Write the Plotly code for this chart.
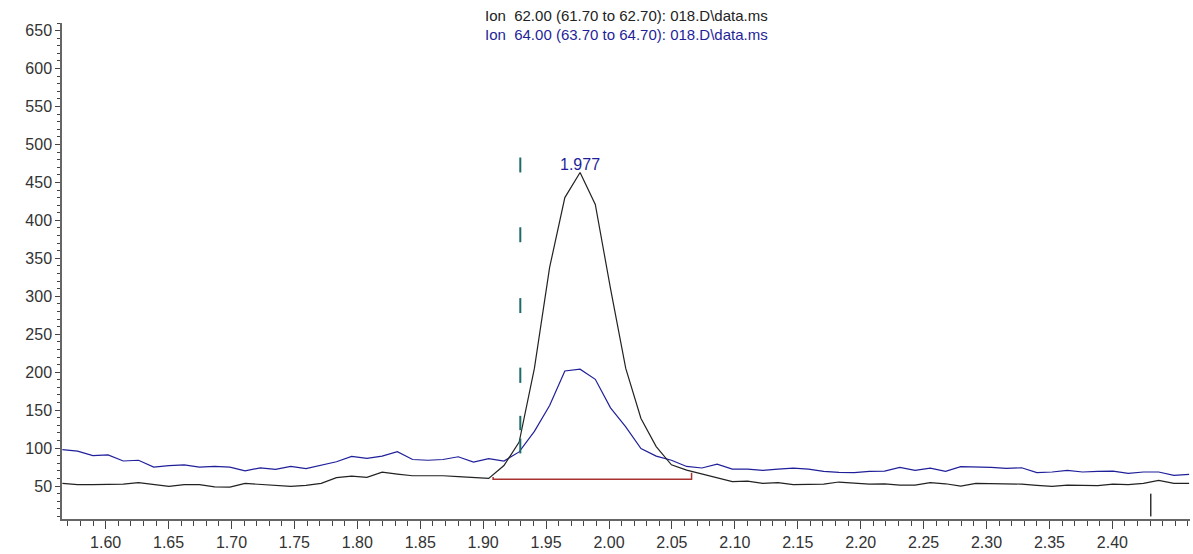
import plotly.graph_objects as go

# Retention times (min) of the scans
times = [1.5656, 1.5777, 1.5898, 1.6019, 1.6140, 1.6261, 1.6382, 1.6503, 1.6624, 1.6745,
         1.6866, 1.6987, 1.7108, 1.7229, 1.7350, 1.7471, 1.7592, 1.7713, 1.7834, 1.7955,
         1.8076, 1.8197, 1.8318, 1.8439, 1.8560, 1.8681, 1.8802, 1.8923, 1.9044, 1.9165,
         1.9286, 1.9407, 1.9528, 1.9649, 1.9770, 1.9891, 2.0012, 2.0133, 2.0254, 2.0375,
         2.0496, 2.0617, 2.0738, 2.0859, 2.0980, 2.1101, 2.1222, 2.1343, 2.1464, 2.1585,
         2.1706, 2.1827, 2.1948, 2.2069, 2.2190, 2.2311, 2.2432, 2.2553, 2.2674, 2.2795,
         2.2916, 2.3037, 2.3158, 2.3279, 2.3400, 2.3521, 2.3642, 2.3763, 2.3884, 2.4005,
         2.4126, 2.4247, 2.4368, 2.4489, 2.4610]

# Ion 62.00 abundance
ion62 = [53.5, 52, 52, 52, 52.6, 54.4, 52, 49.6, 52, 52,
         49, 48.7, 53.5, 52, 50.5, 49.6, 51, 53.5, 61, 63,
         61.4, 68.4, 65.8, 63.6, 63.6, 63.6, 62.3, 61.4, 60, 77,
         108, 205, 338, 430, 463, 421, 310, 205, 139, 102,
         78, 71, 65.8, 61.4, 55.8, 56.6, 53.5, 54.4, 51.8, 52.2,
         52.6, 55.3, 54.4, 52.6, 53, 51.3, 51.3, 54.4, 53, 50,
         53.5, 53.5, 53.5, 52.6, 50.9, 49.6, 51.3, 51.3, 50.5, 52.6,
         51.8, 53.5, 57.5, 53.5, 53.5]

# Ion 64.00 abundance
ion64 = [98, 96, 90, 91, 83, 84, 75, 77, 78, 75,
         76, 75, 70, 74, 72, 76, 73, 78, 82, 89,
         86.4, 89.4, 95.2, 85, 84, 85, 88.6, 81.5, 86, 83,
         95, 122, 156, 201.6, 204, 190.6, 153, 128, 99.5, 89.5,
         84, 75.8, 73.8, 78.8, 72.4, 72.4, 70.6, 72.4, 73.7, 72.4,
         69.3, 68, 67.6, 69.3, 69.7, 74.6, 70.6, 73.7, 69.3, 75.5,
         75.5, 74.6, 73.3, 74.1, 67.6, 68.5, 70.6, 68.5, 69.3, 69.7,
         66.7, 68.5, 68.5, 64.1, 65.4]

# X tick labels (time axis) and Y tick labels (abundance)
x_ticks = [1.60, 1.65, 1.70, 1.75, 1.80, 1.85, 1.90, 1.95, 2.00, 2.05,
           2.10, 2.15, 2.20, 2.25, 2.30, 2.35, 2.40]
y_ticks = [50, 100, 150, 200, 250, 300, 350, 400, 450, 500, 550, 600, 650]

# Integration baseline (start/end time, values)
base_t = [1.9079, 1.9079, 2.0656, 2.0656]
base_v = [62, 58.8, 58.8, 67.6]

# Dashed retention-time marker
marker_t = 1.9295
marker_segments = [(482.8, 463.1), (390.9, 371.2), (297.6, 277.9),
                   (206.0, 185.9), (142.5, 123.6), (112.7, 93.0)]

# Event tick
event_t = 2.4305
event_v = [10, 40]

titles = ["Ion  62.00 (61.70 to 62.70): 018.D\\data.ms",
          "Ion  64.00 (63.70 to 64.70): 018.D\\data.ms"]

BLACK = "#222222"
NAVY = "#1f1f9a"
FONT = "Liberation Sans, Arial, sans-serif"

fig = go.Figure()

fig.add_trace(go.Scatter(x=times, y=ion64, mode="lines",
                         line=dict(color=NAVY, width=1.2), hoverinfo="skip"))
fig.add_trace(go.Scatter(x=times, y=ion62, mode="lines",
                         line=dict(color=BLACK, width=1.2), hoverinfo="skip"))

fig.add_trace(go.Scatter(x=base_t, y=base_v, mode="lines",
                         line=dict(color="#a83232", width=1.5), hoverinfo="skip"))

mx, my = [], []
for top, bot in marker_segments:
    mx += [marker_t, marker_t, None]
    my += [top, bot, None]
fig.add_trace(go.Scatter(x=mx, y=my, mode="lines",
                         line=dict(color="#1f6a6a", width=2), hoverinfo="skip"))

fig.add_trace(go.Scatter(x=[event_t, event_t], y=event_v, mode="lines",
                         line=dict(color="#333333", width=1.5), hoverinfo="skip"))

# Peak label
pk = max(range(len(ion62)), key=lambda i: ion62[i])
fig.add_annotation(x=times[pk], y=ion62[pk], text=f"{times[pk]:.3f}",
                   showarrow=False, yanchor="bottom", yshift=-2,
                   font=dict(family=FONT, size=16, color=NAVY))

fig.add_annotation(xref="paper", yref="paper", x=0.5, y=1, text=titles[0],
                   showarrow=False, yanchor="middle", yshift=8,
                   font=dict(family=FONT, size=15, color=BLACK))
fig.add_annotation(xref="paper", yref="paper", x=0.5, y=1, text=titles[1],
                   showarrow=False, yanchor="middle", yshift=-11,
                   font=dict(family=FONT, size=15, color=NAVY))

fig.update_layout(
    width=1193, height=554,
    margin=dict(l=62, r=3, t=23, b=33),
    plot_bgcolor="white", paper_bgcolor="white",
    showlegend=False,
    font=dict(family=FONT, size=16, color="#333333"),
)
fig.update_xaxes(range=[1.5653, 2.4617], tickmode="array", tickvals=x_ticks,
                 ticktext=[f"{v:.2f}" for v in x_ticks],
                 showgrid=False, zeroline=False, showline=True,
                 linecolor="#666666", linewidth=1.5,
                 ticks="outside", ticklen=8, tickwidth=1.2, tickcolor="#444444",
                 minor=dict(dtick=0.01, tick0=1.6, ticks="outside", ticklen=5,
                            tickcolor="#444444", tickwidth=1.2, showgrid=False),
                 tickfont=dict(family=FONT, size=16, color="#333333"))
fig.update_yaxes(range=[6.6, 660], tickmode="array", tickvals=y_ticks,
                 showgrid=False, zeroline=False, showline=True,
                 linecolor="#666666", linewidth=1.5,
                 ticks="outside", ticklen=5, tickwidth=1.2, tickcolor="#444444",
                 minor=dict(dtick=10, tick0=0, ticks="outside", ticklen=3,
                            tickcolor="#444444", tickwidth=1, showgrid=False),
                 tickfont=dict(family=FONT, size=16, color="#333333"))

fig.write_html("out.html")
